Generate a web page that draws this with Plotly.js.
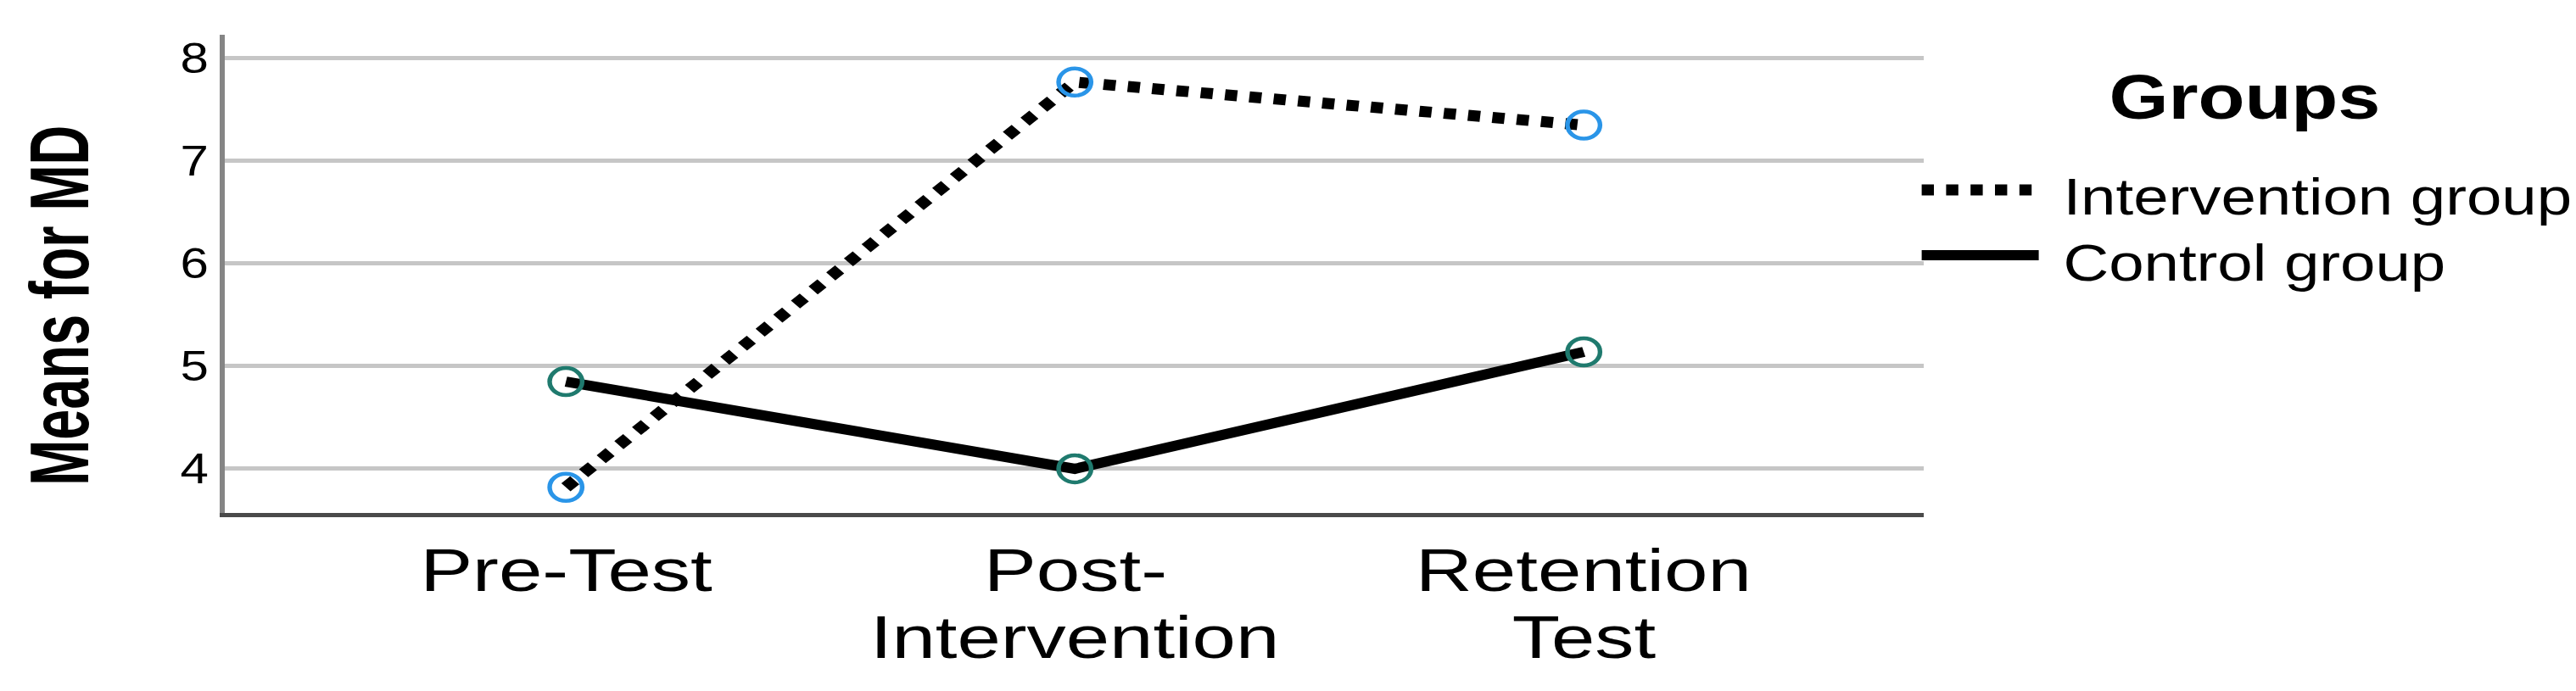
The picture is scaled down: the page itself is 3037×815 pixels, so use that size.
<!DOCTYPE html>
<html><head><meta charset="utf-8">
<script src="https://cdn.plot.ly/plotly-3.0.1.min.js"></script>
<style>
html,body{margin:0;padding:0;background:#fff;overflow:hidden;}
#wrap{width:3037px;height:815px;overflow:hidden;position:relative;}
#chart{width:2531px;height:815px;transform:scaleX(1.2);transform-origin:0 0;}
</style></head><body><div id="wrap"><div id="chart"></div></div>
<script>
// ---- data ----
const categories = ['Pre-Test', 'Post-<br>Intervention', 'Retention<br>Test'];
const seriesNames = ['Intervention group', 'Control group'];
const interventionMeans = [3.82, 7.77, 7.35];
const controlMeans = [4.85, 4.00, 5.14];
const yTickValues = [4, 5, 6, 7, 8];
const yTickLabels = ['4', '5', '6', '7', '8'];
const yAxisTitle = 'Means for MD';
const legendTitle = 'Groups';

// ---- layout geometry (unscaled px) ----
const W = 2531, H = 815;
const L = 221, R = 641, T = 41, B = 210;
const PW = W - L - R, PH = H - T - B;
const px = xu => (xu - L) / PW;          // horizontal px -> paper
const py = yp => (H - B - yp) / PH;      // vertical px -> paper

const FONT = 'Liberation Sans, Arial, sans-serif';

const dotDash = '12px,12px';
const interventionLine = {color: '#000', width: 13, dash: dotDash};
const controlLine = {color: '#000', width: 12};
const interventionMarkerColor = '#2a95e8';
const controlMarkerColor = '#1f7a6e';

const traces = [
  {x: categories, y: controlMeans, type: 'scatter', mode: 'lines', line: controlLine,
   name: seriesNames[1], showlegend: false, hoverinfo: 'skip'},
  {x: categories, y: interventionMeans, type: 'scatter', mode: 'lines', line: interventionLine,
   name: seriesNames[0], showlegend: false, hoverinfo: 'skip'},
  {x: categories, y: controlMeans, type: 'scatter', mode: 'markers', showlegend: false,
   marker: {symbol: 'circle-open', size: 32, color: controlMarkerColor, line: {width: 4.5}}},
  {x: categories, y: interventionMeans, type: 'scatter', mode: 'markers', showlegend: false,
   marker: {symbol: 'circle-open', size: 32, color: interventionMarkerColor, line: {width: 4.5}}}
];

const annotations = [];
const xLabelIdx = [];
// x tick labels (one annotation per line)
categories.forEach((c, i) => {
  c.split('<br>').forEach((ln, j) => {
    xLabelIdx.push(annotations.length);
    annotations.push({xref: 'x', yref: 'paper', x: i, y: py(673 + j * 79),
      xanchor: 'center', yanchor: 'middle', showarrow: false, text: ln,
      font: {family: FONT, size: 70, color: '#000'}});
  });
});
// y title
const yTitleIndex = annotations.length;
annotations.push({xref: 'paper', yref: 'paper', x: px(58), y: py(360), textangle: -90,
  xanchor: 'center', yanchor: 'middle', showarrow: false, text: yAxisTitle,
  font: {family: FONT, size: 82, weight: 'bold', color: '#000'}});
// legend title + items
annotations.push({xref: 'paper', yref: 'paper', x: px(2205), y: py(114),
  xanchor: 'center', yanchor: 'middle', showarrow: false, text: legendTitle,
  font: {family: FONT, size: 75, weight: 'bold', color: '#000'}});
const legendRows = [228, 305];
const legendLines = [interventionLine, controlLine];
const shapes = [];
seriesNames.forEach((nm, k) => {
  annotations.push({xref: 'paper', yref: 'paper', x: px(2025), y: py(legendRows[k] + 4),
    xanchor: 'left', yanchor: 'middle', showarrow: false, text: nm,
    font: {family: FONT, size: 62, color: '#000'}});
  shapes.push({type: 'line', xref: 'paper', yref: 'paper', x0: px(1888), x1: px(2003),
    y0: py(legendRows[k] - 4), y1: py(legendRows[k] - 4), line: legendLines[k]});
});

const layout = {
  width: W, height: H,
  margin: {l: L, r: R, t: T, b: B, pad: 0},
  paper_bgcolor: '#fff', plot_bgcolor: '#fff',
  showlegend: false,
  xaxis: {type: 'category', range: [-0.67, 2.668], showgrid: false, zeroline: false,
    showticklabels: false, ticks: '', showline: true, linecolor: '#4a4a4a', linewidth: 5},
  yaxis: {range: [3.570, 8.231], tickvals: yTickValues, ticktext: yTickLabels,
    showgrid: true, gridcolor: '#c6c6c6', gridwidth: 5, zeroline: false,
    showline: true, linecolor: '#858585', linewidth: 5,
    ticks: 'outside', ticklen: 1, tickcolor: 'rgba(0,0,0,0)',
    tickfont: {family: FONT, size: 50, color: '#000'}},
  annotations: annotations,
  shapes: shapes
};

Plotly.newPlot('chart', traces, layout, {staticPlot: true, displayModeBar: false}).then(gd => {
  // condense the bold y-title (reference uses a narrow bold face)
  const t = gd.querySelector('.annotation[data-index="' + yTitleIndex + '"] text.annotation-text');
  if (t) {
    t.setAttribute('textLength', '425');
    t.setAttribute('lengthAdjust', 'spacingAndGlyphs');
  }
  // the reference's category labels are set slightly wider
  xLabelIdx.forEach(k => {
    const e = gd.querySelector('.annotation[data-index="' + k + '"] text.annotation-text');
    if (e && e.getComputedTextLength) {
      const w = e.getComputedTextLength();
      e.setAttribute('textLength', String(Math.round(w * 1.1)));
      e.setAttribute('lengthAdjust', 'spacingAndGlyphs');
    }
  });
});
</script></body></html>
